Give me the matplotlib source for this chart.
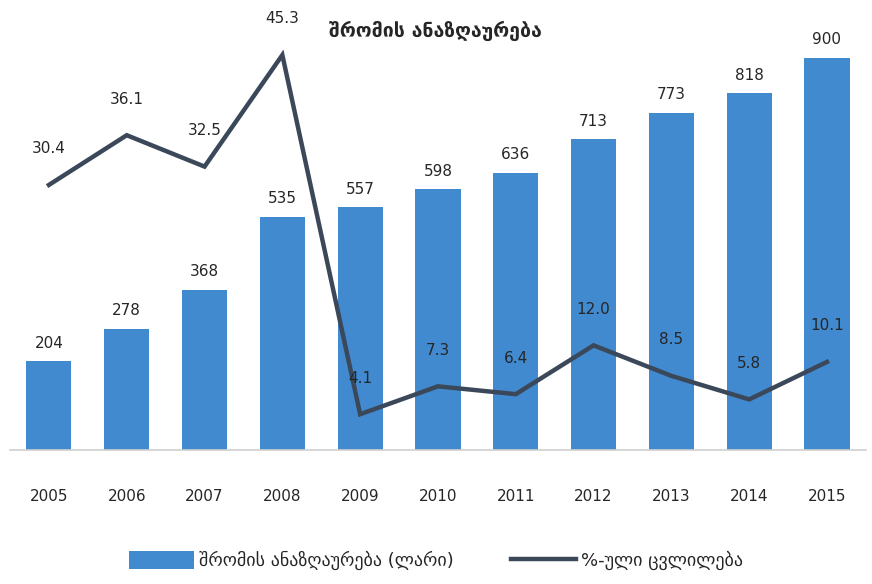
import matplotlib
matplotlib.use("Agg")
import matplotlib.pyplot as plt
import numpy as np

years = ["2005", "2006", "2007", "2008", "2009", "2010", "2011", "2012", "2013", "2014", "2015"]
wages = [204, 278, 368, 535, 557, 598, 636, 713, 773, 818, 900]
pct_change = [30.4, 36.1, 32.5, 45.3, 4.1, 7.3, 6.4, 12.0, 8.5, 5.8, 10.1]

title = "შრომის ანაზღაურება"
bar_label = "შრომის ანაზღაურება (ლარი)"
line_label = "%-ული ცვლილება"

plt.rcParams['font.family'] = ['DejaVu Sans']
bar_color = "#418ad0"
line_color = "#3b4859"
text_color = "#262626"

fig = plt.figure(figsize=(8.72, 5.84), dpi=100)
ax = fig.add_axes([0.0115, 0.2295, 0.9815, 0.7465])
ax2 = ax.twinx()

x = np.arange(len(years))
bars = ax.bar(x, wages, width=0.58, color=bar_color, label=bar_label, zorder=2)
ln, = ax2.plot(x, pct_change, color=line_color, lw=3.2, label=line_label, zorder=3,
               solid_joinstyle='miter')

ax.set_xlim(-0.5, len(years) - 0.5)
ax.set_ylim(0, 1000)
ax2.set_ylim(0, 50)

for a in (ax, ax2):
    for s in ("top", "right", "left"):
        a.spines[s].set_visible(False)
    a.set_yticks([])
ax2.spines["bottom"].set_visible(False)
ax.spines["bottom"].set_color("#d0d0d0")
ax.spines["bottom"].set_linewidth(1.2)

ax.set_xticks(x)
ax.set_xticklabels(years, fontsize=11, color=text_color)
ax.tick_params(axis='x', length=0, pad=28)

for xi, v in zip(x, wages):
    ax.annotate(f"{v}", (xi, v), xytext=(0, 18), textcoords="offset pixels",
                ha="center", va="center", fontsize=11, color=text_color)
for xi, v in zip(x, pct_change):
    ax2.annotate(f"{v:.1f}", (xi, v), xytext=(0, 36), textcoords="offset pixels",
                 ha="center", va="center", fontsize=11, color=text_color)

fig.text(0.499, 0.948, title, ha="center", va="center", fontsize=14,
         fontweight="bold", color=text_color)

fig.legend([bars, ln], [bar_label, line_label], loc="center", ncol=2,
           bbox_to_anchor=(0.5, 0.04), frameon=False, fontsize=13,
           handlelength=3.6, handleheight=1.2, handletextpad=0.25, columnspacing=3.2,
           labelcolor=text_color)

fig.savefig("out.png", dpi=100)
